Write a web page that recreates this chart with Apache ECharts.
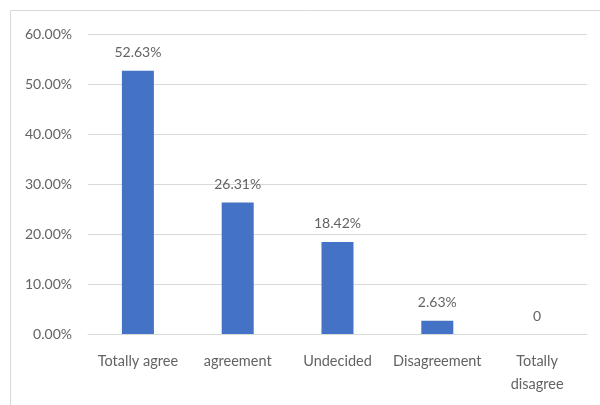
<!DOCTYPE html>
<html>
<head>
<meta charset="utf-8">
<script src="https://cdn.jsdelivr.net/npm/echarts@6/dist/echarts.min.js"></script>
<style>
  html, body { margin: 0; padding: 0; background: #fff; }
  #chart { width: 600px; height: 405px; }
</style>
</head>
<body>
<div id="chart"></div>
<script>
// Survey response shares, in percent
const categories = ['Totally agree', 'agreement', 'Undecided', 'Disagreement', 'Totally\ndisagree'];
const shares = [52.63, 26.31, 18.42, 2.63, 0];
const yTicks = { min: 0, max: 60, step: 10 };

const font = 'Lato, "Liberation Sans", sans-serif';
const textColor = '#636363';
const gridColor = '#d9d9d9';

const chart = echarts.init(document.getElementById('chart'), null, { renderer: 'canvas' });

chart.setOption({
  animation: false,
  backgroundColor: '#ffffff',
  graphic: [{
    type: 'rect',
    shape: { x: 10.5, y: 10.5, width: 600, height: 420 },
    style: { fill: 'none', stroke: gridColor, lineWidth: 1 },
    silent: true,
    z: -10
  }],
  grid: { left: 88, right: 13, top: 34, bottom: 71, containLabel: false },
  xAxis: {
    type: 'category',
    data: categories,
    axisTick: { show: false },
    axisLine: { show: true, lineStyle: { color: gridColor, width: 1 } },
    axisLabel: {
      color: textColor,
      fontFamily: font,
      fontSize: 14.5,
      lineHeight: 23,
      margin: 16,
      interval: 0
    }
  },
  yAxis: {
    type: 'value',
    min: yTicks.min,
    max: yTicks.max,
    interval: yTicks.step,
    axisLine: { show: false },
    axisTick: { show: false },
    splitLine: { lineStyle: { color: gridColor, width: 1 } },
    axisLabel: {
      color: textColor,
      fontFamily: font,
      fontSize: 14,
      margin: 16,
      formatter: v => v.toFixed(2) + '%'
    }
  },
  series: [{
    type: 'bar',
    data: shares,
    barWidth: 32,
    itemStyle: { color: '#4472c4' },
    label: {
      show: true,
      position: 'top',
      distance: 11,
      color: textColor,
      fontFamily: font,
      fontSize: 14,
      formatter: p => p.value === 0 ? '0' : p.value.toFixed(2) + '%'
    }
  }]
});
</script>
</body>
</html>
